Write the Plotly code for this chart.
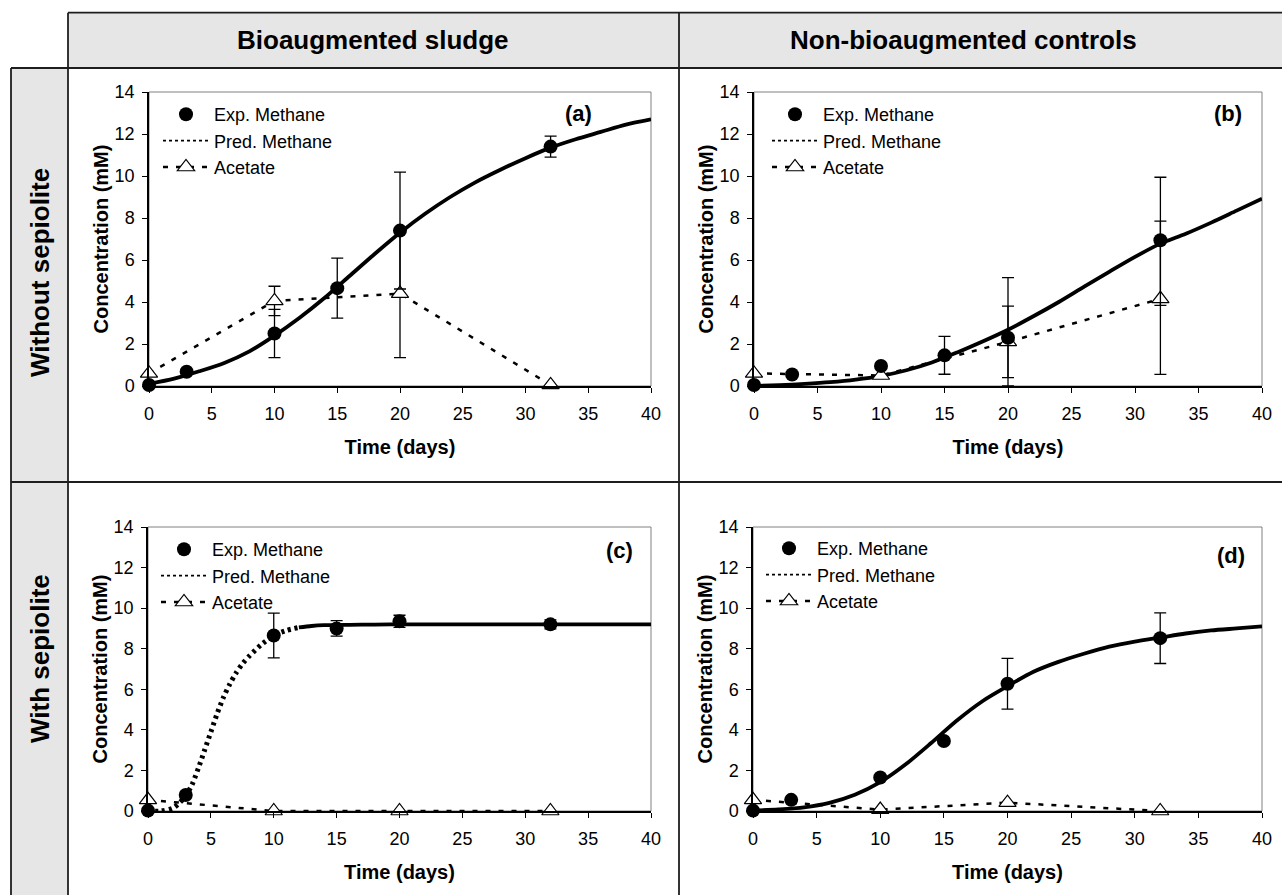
import plotly.graph_objects as go

W, H = 1282, 895

# ---------------- text ----------------
col_headers = ["Bioaugmented sludge", "Non-bioaugmented controls"]
row_headers = ["Without sepiolite", "With sepiolite"]
panel_labels = ["(a)", "(b)", "(c)", "(d)"]
name_exp = "Exp. Methane"
name_pred = "Pred. Methane"
name_acet = "Acetate"
x_title = "Time (days)"
y_title = "Concentration (mM)"
x_ticks = [0, 5, 10, 15, 20, 25, 30, 35, 40]
y_ticks = [0, 2, 4, 6, 8, 10, 12, 14]

# ---------------- data ----------------
exp_days = [0, 3, 10, 15, 20, 32]
acetate_days = [0, 10, 20, 32]
pred_days = [0, 2, 4, 6, 8, 10, 12, 14, 16, 18, 20, 22, 24, 26, 28, 30, 32, 34, 36, 38, 40]
c_pred_days = [0, 1, 2, 2.5, 3, 3.5, 4, 4.5, 5, 5.5, 6, 6.5, 7, 7.5, 8, 9, 10, 11, 12,
               13, 14, 16, 18, 20, 25, 30, 35, 40]

# (a) bioaugmented, without sepiolite
a_methane = [0.05, 0.68, 2.50, 4.66, 7.40, 11.40]
a_methane_err_up = [None, None, 1.15, 1.43, 2.78, 0.50]
a_methane_err_dn = [None, None, 1.15, 1.43, 2.78, 0.50]
a_acetate = [0.60, 4.05, 4.40, 0.05]
a_acetate_err_up = [None, 0.70, 3.05, None]
a_acetate_err_dn = [None, 0.70, 3.05, None]
a_pred = [0.10, 0.35, 0.70, 1.10, 1.65, 2.40, 3.25, 4.20, 5.25, 6.30, 7.30,
          8.20, 9.00, 9.70, 10.30, 10.85, 11.35, 11.75, 12.10, 12.45, 12.70]

# (b) non-bioaugmented, without sepiolite
b_methane = [0.05, 0.55, 0.95, 1.46, 2.30, 6.94]
b_methane_err_up = [None, None, None, 0.90, 2.86, 3.00]
b_methane_err_dn = [None, None, None, 0.90, 2.30, 3.10]
b_acetate = [0.60, 0.50, 2.10, 4.15]
b_acetate_err_up = [None, None, 1.70, 3.70]
b_acetate_err_dn = [None, None, 1.70, 3.60]
b_pred = [0.00, 0.04, 0.10, 0.18, 0.30, 0.48, 0.75, 1.12, 1.60, 2.12, 2.68,
          3.32, 4.00, 4.73, 5.45, 6.15, 6.78, 7.25, 7.78, 8.35, 8.92]

# (c) bioaugmented, with sepiolite
c_methane = [0.02, 0.79, 8.65, 9.00, 9.35, 9.20]
c_methane_err_up = [None, None, 1.10, 0.38, 0.30, 0.22]
c_methane_err_dn = [None, None, 1.10, 0.38, 0.30, 0.22]
c_acetate = [0.55, 0.00, 0.00, 0.00]
c_acetate_err_up = [None, None, None, None]
c_acetate_err_dn = [None, None, None, None]
c_pred = [0.00, 0.00, 0.15, 0.40, 0.75, 1.30, 2.10, 3.00, 3.90, 4.80, 5.60, 6.25, 6.80,
          7.25, 7.60, 8.20, 8.65, 8.90, 9.05, 9.12, 9.16, 9.18, 9.19, 9.20, 9.20, 9.20,
          9.20, 9.20]

# (d) non-bioaugmented, with sepiolite
d_methane = [0.02, 0.55, 1.65, 3.45, 6.27, 8.52]
d_methane_err_up = [None, None, None, None, 1.25, 1.25]
d_methane_err_dn = [None, None, None, None, 1.25, 1.25]
d_acetate = [0.55, 0.07, 0.41, 0.00]
d_acetate_err_up = [None, None, None, None]
d_acetate_err_dn = [None, None, None, None]
d_pred = [0.02, 0.08, 0.18, 0.40, 0.80, 1.42, 2.30, 3.35, 4.45, 5.40, 6.15,
          6.85, 7.35, 7.75, 8.10, 8.35, 8.55, 8.75, 8.90, 9.00, 9.10]

# label positions in data units (x days, y mM)
label_pos = [(34.2, 13.0), (37.3, 12.96), (37.5, 12.84), (37.6, 12.6)]

panels = [
    dict(m=a_methane, mu=a_methane_err_up, md=a_methane_err_dn, a=a_acetate,
         au=a_acetate_err_up, ad=a_acetate_err_dn, pd=pred_days, p=a_pred, split=None),
    dict(m=b_methane, mu=b_methane_err_up, md=b_methane_err_dn, a=b_acetate,
         au=b_acetate_err_up, ad=b_acetate_err_dn, pd=pred_days, p=b_pred, split=None),
    dict(m=c_methane, mu=c_methane_err_up, md=c_methane_err_dn, a=c_acetate,
         au=c_acetate_err_up, ad=c_acetate_err_dn, pd=c_pred_days, p=c_pred, split=12),
    dict(m=d_methane, mu=d_methane_err_up, md=d_methane_err_dn, a=d_acetate,
         au=d_acetate_err_up, ad=d_acetate_err_dn, pd=pred_days, p=d_pred, split=None),
]

# ---------------- layout geometry (pixels) ----------------
panel_geom = [(149, 651, 92, 386), (754, 1262, 92, 386),
              (148, 651, 527, 811), (753, 1262, 527, 811)]
legend_geom = [(158, 96), (767, 96), (156, 531), (761, 530)]

FONT = "Liberation Sans, Arial, Helvetica, sans-serif"
LINE = "#1e1e1e"
GRAY = "#e6e6e6"


def fx(p):
    return p / W


def fy(p):
    return 1 - p / H


fig = go.Figure()
layout = dict(
    width=W, height=H, autosize=False,
    margin=dict(l=0, r=0, t=0, b=0, pad=0),
    paper_bgcolor="white", plot_bgcolor="white",
    font=dict(family=FONT, color="black", size=18),
    showlegend=True,
)
shapes = []
annotations = []


def err_subset(xs, ys, up, dn):
    idx = [i for i in range(len(xs)) if up[i] is not None]
    return ([xs[i] for i in idx], [ys[i] for i in idx],
            [up[i] for i in idx], [dn[i] for i in idx])


for i, (pn, geom, lg) in enumerate(zip(panels, panel_geom, legend_geom)):
    k = "" if i == 0 else str(i + 1)
    xr, yr = "x" + k, "y" + k
    lname = "legend" + k
    x0, x1, yt, yb = geom
    layout["xaxis" + k] = dict(
        domain=[fx(x0), fx(x1)], anchor=yr, range=[0, 40], tickvals=x_ticks,
        ticks="outside", ticklen=5, tickwidth=1, tickcolor="black",
        showline=True, linecolor="black", linewidth=1.5, showgrid=False,
        zeroline=False, tickfont=dict(size=18, family=FONT), ticklabelstandoff=6,
        title=dict(text=x_title, font=dict(size=20, family=FONT, weight="bold"), standoff=17),
        fixedrange=True, automargin=False,
    )
    layout["yaxis" + k] = dict(
        domain=[fy(yb), fy(yt)], anchor=xr, range=[0, 14], tickvals=y_ticks,
        ticks="outside", ticklen=5, tickwidth=1, tickcolor="black",
        showline=True, linecolor="black", linewidth=1.5, showgrid=False,
        zeroline=False, tickfont=dict(size=18, family=FONT), ticklabelstandoff=4,
        title=dict(text=y_title, font=dict(size=20, family=FONT, weight="bold"), standoff=1),
        fixedrange=True, automargin=False,
    )
    layout[lname] = dict(
        x=fx(lg[0]), y=fy(lg[1]), xanchor="left", yanchor="top",
        bgcolor="rgba(0,0,0,0)", borderwidth=0, tracegroupgap=0,
        font=dict(size=18, family=FONT, color="black"), itemwidth=46,
        itemclick=False, itemdoubleclick=False,
    )
    # panel frame (gray top/right)
    shapes.append(dict(type="rect", xref=xr + " domain", yref=yr + " domain",
                       x0=0, x1=1, y0=0, y1=1, line=dict(color="#808080", width=1),
                       layer="below"))

    # predicted methane curve
    if pn["split"] is None:
        fig.add_trace(go.Scatter(
            x=pn["pd"], y=pn["p"], mode="lines", xaxis=xr, yaxis=yr,
            line=dict(color="black", width=3.8, shape="spline", smoothing=0.8),
            showlegend=False, cliponaxis=False, hoverinfo="skip"))
    else:
        s = pn["pd"].index(pn["split"])
        fig.add_trace(go.Scatter(
            x=pn["pd"][:s + 1], y=pn["p"][:s + 1], mode="lines", xaxis=xr, yaxis=yr,
            line=dict(color="black", width=5, shape="spline", smoothing=0.8,
                      dash="3px,4px"),
            showlegend=False, cliponaxis=False, hoverinfo="skip"))
        fig.add_trace(go.Scatter(
            x=pn["pd"][s:], y=pn["p"][s:], mode="lines", xaxis=xr, yaxis=yr,
            line=dict(color="black", width=3.8, shape="spline", smoothing=0.8),
            showlegend=False, cliponaxis=False, hoverinfo="skip"))

    # acetate error bars
    ex, ey, eu, ed = err_subset(acetate_days, pn["a"], pn["au"], pn["ad"])
    if ex:
        fig.add_trace(go.Scatter(
            x=ex, y=ey, mode="markers", xaxis=xr, yaxis=yr, marker=dict(size=1, opacity=0),
            error_y=dict(type="data", symmetric=False, array=eu, arrayminus=ed,
                         color="black", thickness=1.3, width=6),
            showlegend=False, cliponaxis=False, hoverinfo="skip"))
    # acetate
    fig.add_trace(go.Scatter(
        x=acetate_days, y=pn["a"], mode="lines+markers", xaxis=xr, yaxis=yr,
        name=name_acet, legend=lname, legendrank=3,
        line=dict(color="black", width=2.5, dash="5px,8px"),
        marker=dict(symbol="triangle-up", size=15, color="white",
                    line=dict(color="black", width=1.2)),
        cliponaxis=False))
    # methane error bars
    ex, ey, eu, ed = err_subset(exp_days, pn["m"], pn["mu"], pn["md"])
    if ex:
        fig.add_trace(go.Scatter(
            x=ex, y=ey, mode="markers", xaxis=xr, yaxis=yr, marker=dict(size=1, opacity=0),
            error_y=dict(type="data", symmetric=False, array=eu, arrayminus=ed,
                         color="black", thickness=1.3, width=6),
            showlegend=False, cliponaxis=False, hoverinfo="skip"))
    # experimental methane
    fig.add_trace(go.Scatter(
        x=exp_days, y=pn["m"], mode="markers", xaxis=xr, yaxis=yr,
        name=name_exp, legend=lname, legendrank=1,
        marker=dict(symbol="circle", size=14, color="black"),
        cliponaxis=False))
    # legend entry for predicted methane
    fig.add_trace(go.Scatter(
        x=[None], y=[None], mode="lines", xaxis=xr, yaxis=yr,
        name=name_pred, legend=lname, legendrank=2,
        line=dict(color="black", width=1.6, dash="dot")))

    lx, ly = label_pos[i]
    annotations.append(dict(text=panel_labels[i], x=lx, y=ly, xref=xr, yref=yr,
                            xanchor="center", yanchor="middle",
                            showarrow=False, font=dict(size=22, family=FONT, weight="bold")))

# ---------------- table frame ----------------
shapes += [
    dict(type="rect", xref="paper", yref="paper", x0=fx(68), x1=fx(1300), y0=fy(68),
         y1=fy(12.7), fillcolor=GRAY, line=dict(width=0), layer="below"),
    dict(type="rect", xref="paper", yref="paper", x0=fx(11), x1=fx(68), y0=fy(910),
         y1=fy(68), fillcolor=GRAY, line=dict(width=0), layer="below"),
]
lines_px = [
    (68, 12.7, 1300, 12.7), (11, 68, 1300, 68), (11, 482, 1300, 482),
    (68, 12.7, 68, 910), (11, 68, 11, 910), (679, 12.7, 679, 910),
]
for (ax0, ay0, ax1, ay1) in lines_px:
    shapes.append(dict(type="line", xref="paper", yref="paper", x0=fx(ax0), y0=fy(ay0),
                       x1=fx(ax1), y1=fy(ay1), line=dict(color=LINE, width=1.8)))

hdr_font = dict(size=26, family=FONT, weight="bold", color="black")
annotations += [
    dict(text=col_headers[0], x=fx(373), y=fy(40), xref="paper", yref="paper",
         xanchor="center", yanchor="middle", showarrow=False, font=hdr_font),
    dict(text=col_headers[1], x=fx(963), y=fy(40), xref="paper", yref="paper",
         xanchor="center", yanchor="middle", showarrow=False, font=hdr_font),
    dict(text=row_headers[0], x=fx(40), y=fy(273), xref="paper", yref="paper",
         xanchor="center", yanchor="middle", showarrow=False, textangle=-90, font=hdr_font),
    dict(text=row_headers[1], x=fx(40), y=fy(659), xref="paper", yref="paper",
         xanchor="center", yanchor="middle", showarrow=False, textangle=-90, font=hdr_font),
]

layout["shapes"] = shapes
layout["annotations"] = annotations
fig.update_layout(**layout)
fig.write_html(
    "out.html",
    config={"displayModeBar": False},
    post_script=("document.body.style.margin='0px';"
                 "document.body.style.overflow='hidden';"
                 "document.documentElement.style.overflow='hidden';"),
)
